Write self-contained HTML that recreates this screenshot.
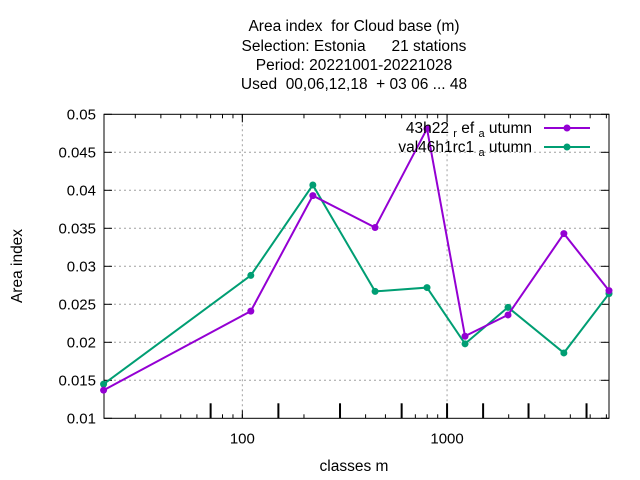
<!DOCTYPE html>
<html><head><meta charset="utf-8">
<style>
body{margin:0;background:#fff;}
svg{display:block;font-family:"Liberation Sans",sans-serif;}
text{white-space:pre;}
</style></head>
<body>
<svg id="chart" width="640" height="480" viewBox="0 0 640 480" xmlns="http://www.w3.org/2000/svg" xml:space="preserve">
<g font-size="15.5" text-anchor="middle" fill="#000">
<text x="354" y="31">Area index  for Cloud base (m)</text>
<text x="354" y="51">Selection: Estonia      21 stations</text>
<text x="354" y="70">Period: 20221001-20221028</text>
<text x="354" y="89">Used  00,06,12,18  + 03 06 ... 48</text>
</g>
<g id="grid"></g>
<g id="axes"></g>
<g id="series"></g>
<text x="22" y="266" font-size="15.5" text-anchor="middle" transform="rotate(-90 22 266)">Area index</text>
<text x="354" y="471" font-size="15.5" text-anchor="middle">classes m</text>
<g font-size="15.5">
<text x="532" y="133" text-anchor="end">43h22 <tspan font-size="11" dy="4">r</tspan><tspan dy="-4"> ef </tspan><tspan font-size="11" dy="4">a</tspan><tspan dy="-4"> utumn</tspan></text>
<text x="532" y="152" text-anchor="end">val46h1rc1 <tspan font-size="11" dy="4">a</tspan><tspan dy="-4"> utumn</tspan></text>
<line x1="544" y1="128" x2="590" y2="128" stroke="#9400d3" stroke-width="2"/>
<circle cx="567" cy="128" r="3.5" fill="#9400d3"/>
<line x1="544" y1="147" x2="590" y2="147" stroke="#009e73" stroke-width="2"/>
<circle cx="567" cy="147" r="3.5" fill="#009e73"/>
</g>
</svg>
<script>
const classes = [21, 110, 221, 445, 798, 1224, 1985, 3720, 6180];
const refValues = [0.0137, 0.0241, 0.0393, 0.0351, 0.0481, 0.0208, 0.0236, 0.0343, 0.0268];
const valValues = [0.0145, 0.0288, 0.0407, 0.0267, 0.0272, 0.0198, 0.0246, 0.0186, 0.0264];
const yTicks = [0.01, 0.015, 0.02, 0.025, 0.03, 0.035, 0.04, 0.045, 0.05];
const yTickLabels = ["0.01","0.015","0.02","0.025","0.03","0.035","0.04","0.045","0.05"];
const xTicks = [100, 1000];
const xTickLabels = ["100","1000"];
const markTicks = [70, 150, 300, 600, 1000, 1500, 2500, 4800];

const L=104,R=609,T=114.3,B=418.3;
const xMin=21.1,xMax=6180,yMin=0.01,yMax=0.05;
const NS="http://www.w3.org/2000/svg";
function xS(v){return L+(Math.log10(v)-Math.log10(xMin))/(Math.log10(xMax)-Math.log10(xMin))*(R-L);}
function yS(v){return B-(v-yMin)/(yMax-yMin)*(B-T);}
function mk(tag,attrs,parent){const e=document.createElementNS(NS,tag);for(const k in attrs)e.setAttribute(k,attrs[k]);parent.appendChild(e);return e;}
const grid=document.getElementById('grid'),axes=document.getElementById('axes'),series=document.getElementById('series');

yTicks.forEach((t,i)=>{
  const y=yS(t);
  if(i>0&&i<yTicks.length-1){const g=mk('line',{x1:L,x2:R,y1:y,y2:y,stroke:'#a0a0a0','stroke-dasharray':'2,3'},grid);
  
  }
  const a=mk('line',{x1:L,x2:L+8,y1:y,y2:y,stroke:'#000'},axes);
  
  
  const b=mk('line',{x1:R-8,x2:R,y1:y,y2:y,stroke:'#000'},axes);
  
  
  const tx=mk('text',{x:L-8,y:y+5,'font-size':15,'text-anchor':'end'},axes);
  tx.textContent=yTickLabels[i];
  
  
});
xTicks.forEach((t,i)=>{
  const x=xS(t);
  const g=mk('line',{x1:x,x2:x,y1:T,y2:B,stroke:'#a0a0a0','stroke-dasharray':'2,3'},grid);
  
  
  const tx=mk('text',{x:x,y:B+25,'font-size':15,'text-anchor':'middle'},axes);
  tx.textContent=xTickLabels[i];
  
  
});
for(let d=10;d<=1000;d*=10){for(let m=1;m<=10;m++){const v=d*m;if(v<=xMin||v>=xMax)continue;
  const x=xS(v),len=(m===10)?8:4;
  const a=mk('line',{x1:x,x2:x,y1:B-len,y2:B,stroke:'#000'},axes);
  
  
  const b=mk('line',{x1:x,x2:x,y1:T,y2:T+len,stroke:'#000'},axes);
  
  }}
markTicks.forEach(t=>{const x=xS(t);
  const a=mk('line',{x1:x,x2:x,y1:B-15,y2:B,stroke:'#000','stroke-width':2},axes);
  
  });
const border=mk('rect',{x:L,y:T,width:R-L,height:B-T,fill:'none',stroke:'#000','stroke-width':1},axes);



function drawSeries(vals,color,name){
  const pts=classes.map((c,i)=>xS(c).toFixed(1)+','+yS(vals[i]).toFixed(1)).join(' ');
  const pl=mk('polyline',{points:pts,fill:'none',stroke:color,'stroke-width':2},series);
  
  
  classes.forEach((c,i)=>{const p=mk('circle',{cx:xS(c),cy:yS(vals[i]),r:3.5,fill:color},series);
    
    });
}
drawSeries(valValues,'#009e73','val46h1rc1-autumn');
drawSeries(refValues,'#9400d3','43h22-ref-autumn');
</script>
</body></html>
